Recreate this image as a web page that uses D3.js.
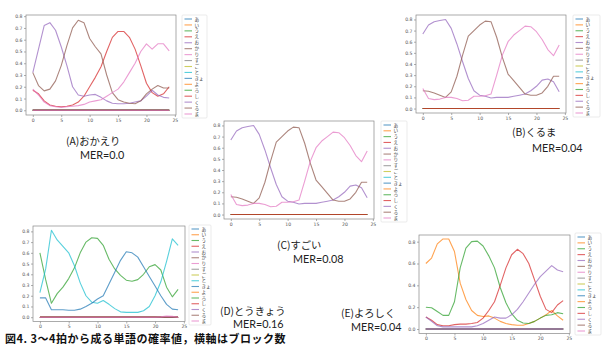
<!DOCTYPE html>
<html>
<head>
<meta charset="utf-8">
<script src="https://cdn.jsdelivr.net/npm/d3@7/dist/d3.min.js"></script>
<style>
  body { margin: 0; background: #fff; }
  svg { display: block; }
  .tick text { font-family: "DejaVu Sans", sans-serif; font-size: 4.6px; fill: #555; }
  .tick line { stroke: #777; stroke-width: 0.6; }
</style>
</head>
<body>
<div id="chart"></div>
<script>
// block index (x axis)
const steps = [0,1,2,3,4,5,6,7,8,9,10,11,12,13,14,15,16,17,18,19,20,21,22,23,24];
const legendLabels = ["あ","い","う","え","お","か","り","す","ご","と","きょ","よ","ろ","し","く","る","ま"];
const palette = ["#1f77b4","#ff7f0e","#2ca02c","#d62728","#9467bd","#8c564b","#e377c2","#7f7f7f","#bcbd22","#17becf"];
const zeros = [0,0,0,0,0,0,0,0,0,0,0,0,0,0,0,0,0,0,0,0,0,0,0,0,0];

// (A) おかえり
const aO  = [0.32,0.52,0.72,0.745,0.68,0.54,0.38,0.2,0.13,0.12,0.13,0.135,0.11,0.08,0.06,0.055,0.055,0.06,0.07,0.08,0.12,0.17,0.13,0.11,0.105];
const aKa = [0.32,0.21,0.165,0.18,0.25,0.38,0.55,0.7,0.765,0.745,0.61,0.54,0.48,0.3,0.15,0.09,0.07,0.06,0.055,0.08,0.14,0.18,0.21,0.19,0.19];
const aE  = [0.17,0.14,0.08,0.045,0.035,0.03,0.035,0.045,0.07,0.12,0.2,0.28,0.37,0.5,0.62,0.67,0.67,0.62,0.52,0.38,0.23,0.15,0.12,0.14,0.2];
const aRi = [0.18,0.13,0.07,0.04,0.03,0.025,0.03,0.035,0.04,0.05,0.07,0.08,0.09,0.12,0.15,0.18,0.24,0.32,0.4,0.5,0.565,0.52,0.565,0.565,0.505];

// (B) くるま
const bKu = [0.67,0.75,0.78,0.79,0.8,0.72,0.58,0.42,0.27,0.16,0.12,0.11,0.095,0.1,0.1,0.1,0.11,0.12,0.13,0.16,0.2,0.255,0.265,0.24,0.15];
const bRu = [0.16,0.155,0.14,0.12,0.1,0.15,0.29,0.48,0.65,0.7,0.75,0.785,0.78,0.64,0.46,0.31,0.25,0.19,0.13,0.12,0.12,0.14,0.2,0.29,0.29];
const bMa = [0.18,0.09,0.08,0.085,0.1,0.1,0.09,0.07,0.075,0.11,0.11,0.115,0.13,0.3,0.48,0.6,0.66,0.7,0.74,0.735,0.69,0.62,0.53,0.475,0.57];

// (C) すごい
const cKu = [0.67,0.75,0.78,0.79,0.8,0.72,0.58,0.42,0.27,0.16,0.12,0.11,0.095,0.1,0.1,0.1,0.11,0.12,0.13,0.16,0.2,0.255,0.265,0.24,0.15];
const cRu = [0.16,0.155,0.14,0.12,0.1,0.15,0.29,0.48,0.65,0.7,0.75,0.785,0.78,0.64,0.46,0.31,0.25,0.19,0.13,0.12,0.12,0.14,0.2,0.29,0.29];
const cMa = [0.18,0.09,0.08,0.085,0.1,0.1,0.09,0.07,0.075,0.11,0.11,0.115,0.13,0.3,0.48,0.6,0.66,0.7,0.74,0.735,0.69,0.62,0.53,0.475,0.57];

// (D) とうきょう
const dTo  = [0.23,0.45,0.81,0.72,0.66,0.6,0.48,0.32,0.2,0.14,0.13,0.155,0.12,0.08,0.05,0.045,0.045,0.045,0.06,0.1,0.2,0.33,0.52,0.73,0.67];
const dU   = [0.6,0.35,0.13,0.22,0.28,0.36,0.46,0.6,0.7,0.74,0.735,0.67,0.54,0.45,0.39,0.345,0.335,0.35,0.4,0.47,0.49,0.44,0.28,0.19,0.26];
const dKyo = [0.18,0.18,0.07,0.07,0.07,0.065,0.065,0.075,0.1,0.13,0.17,0.2,0.31,0.42,0.53,0.61,0.6,0.56,0.47,0.38,0.29,0.2,0.12,0.075,0.07];
const dMa  = [0,0,0,0,0,0,0,0,0,0,0,0,0,0,0,0,0,0,0,0,0,0.003,0.01,0.008,0];

// (E) よろしく
const eYo  = [0.6,0.65,0.78,0.825,0.825,0.71,0.42,0.27,0.17,0.125,0.115,0.12,0.1,0.07,0.05,0.04,0.035,0.035,0.05,0.07,0.1,0.13,0.17,0.12,0.08];
const eRo  = [0.2,0.195,0.16,0.125,0.125,0.25,0.56,0.74,0.8,0.805,0.76,0.67,0.56,0.38,0.24,0.14,0.08,0.055,0.05,0.07,0.1,0.125,0.13,0.15,0.14];
const eShi = [0.11,0.08,0.04,0.03,0.03,0.04,0.045,0.045,0.05,0.06,0.1,0.17,0.25,0.4,0.56,0.68,0.73,0.69,0.6,0.45,0.3,0.18,0.15,0.22,0.26];
const eKu  = [0.11,0.07,0.03,0.02,0.02,0.02,0.02,0.02,0.02,0.03,0.05,0.08,0.11,0.1,0.1,0.13,0.18,0.25,0.33,0.41,0.48,0.53,0.58,0.54,0.525];

const xTicks = [0,5,10,15,20,25];
const yTicksFine = [0,0.1,0.2,0.3,0.4,0.5,0.6,0.7,0.8];
const yTicksCoarse = [0,0.2,0.4,0.6,0.8];

const panels = [
  {box:[26,176,15,115], yDom:[-0.04,0.81], yTicks:yTicksFine, leg:[182,15,25,103],
   curves:{3:aE,4:aO,5:aKa,6:aRi}, label:"(A)おかえり", lx:66, ly:145, mer:"MER=0.0", mx:80, my:158.5},
  {box:[416,566,15,113], yDom:[-0.04,0.84], yTicks:yTicksFine, leg:[573,15,27,102],
   curves:{14:bKu,15:bRu,16:bMa}, label:"(B)くるま", lx:512, ly:136, mer:"MER=0.04", mx:532, my:152},
  {box:[224,374,121,219], yDom:[-0.04,0.84], yTicks:yTicksFine, leg:[381,121,26,101],
   curves:{14:cKu,15:cRu,16:cMa}, label:"(C)すごい", lx:277, ly:249, mer:"MER=0.08", mx:293, my:262.5},
  {box:[33,185,226,321.5], yDom:[-0.04,0.85], yTicks:yTicksFine, leg:[189,225,22,100],
   curves:{2:dU,9:dTo,10:dKyo,16:dMa}, label:"(D)とうきょう", lx:220, ly:314.5, mer:"MER=0.16", mx:233, my:328},
  {box:[419,570,235,333.5], yDom:[-0.041,0.861], yTicks:yTicksCoarse, leg:[575,233,26,102],
   curves:{11:eYo,12:eRo,13:eShi,14:eKu}, label:"(E)よろしく", lx:341, ly:317, mer:"MER=0.04", mx:351, my:331}
];

const W = 602, H = 345;
const svg = d3.select("#chart").append("svg").attr("width", W).attr("height", H);
const jp = "'Noto Sans CJK JP', 'Noto Sans', sans-serif";
const latin = "Lato, 'Liberation Sans', sans-serif";

function drawPanel(p) {
  const [bx0, bx1, by0, by1] = p.box;
  const x = d3.scaleLinear().domain([-1.2, 25.2]).range([bx0, bx1]);
  const y = d3.scaleLinear().domain(p.yDom).range([by1, by0]);
  const g = svg.append("g");

  //Add X axis
  const gx = g.append("g")
    .attr("transform", "translate(0," + by1 + ")")
    .call(d3.axisBottom(x).tickValues(xTicks).tickSize(2).tickPadding(1.5).tickFormat(d3.format("d")));
  gx.select(".domain").remove();

  // Add Y axis
  const gy = g.append("g")
    .attr("transform", "translate(" + bx0 + ",0)")
    .call(d3.axisLeft(y).tickValues(p.yTicks).tickSize(2).tickPadding(1.5).tickFormat(d3.format(".1f")));
  gy.select(".domain").remove();

  // lines, drawn in legend order so later ones sit on top
  const line = d3.line().x((d, i) => x(steps[i])).y(d => y(d));
  legendLabels.forEach((lab, i) => {
    const vals = p.curves[i] || zeros;
    g.append("path")
      .datum(vals)
      .attr("d", line)
      .attr("fill", "none")
      .attr("stroke", palette[i % 10])
      .attr("stroke-opacity", 0.72)
      .attr("stroke-width", 1.1)
      .attr("stroke-linejoin", "round");
  });

  // frame
  g.append("rect")
    .attr("x", bx0).attr("y", by0)
    .attr("width", bx1 - bx0).attr("height", by1 - by0)
    .attr("fill", "none").attr("stroke", "#888").attr("stroke-width", 0.7);

  // legend
  const [lx, ly, lw, lh] = p.leg;
  const lg = g.append("g");
  lg.append("rect")
    .attr("x", lx).attr("y", ly).attr("width", lw).attr("height", lh)
    .attr("rx", 1).attr("fill", "#fff").attr("stroke", "#ddd").attr("stroke-width", 0.6);
  const step = (lh - 8) / (legendLabels.length - 1);
  legendLabels.forEach((lab, i) => {
    const yy = ly + 4 + i * step;
    lg.append("line")
      .attr("x1", lx + 2.5).attr("x2", lx + 10)
      .attr("y1", yy).attr("y2", yy)
      .attr("stroke", palette[i % 10]).attr("stroke-opacity", 0.72).attr("stroke-width", 1.1);
    lg.append("text")
      .attr("x", lx + 12.5).attr("y", yy + 1.6)
      .style("font-family", jp).style("font-size", "4.6px").style("fill", "#444")
      .text(lab);
  });

  // panel labels
  svg.append("text").attr("x", p.lx).attr("y", p.ly)
    .style("font-family", jp).style("font-size", "10.3px").style("fill", "#222")
    .text(p.label);
  svg.append("text").attr("x", p.mx).attr("y", p.my)
    .style("font-family", latin).style("font-size", "10.8px").style("fill", "#222")
    .text(p.mer);
}

panels.forEach(drawPanel);

svg.append("text").attr("x", 5).attr("y", 343)
  .style("font-family", jp).style("font-size", "11px").style("font-weight", "bold")
  .style("letter-spacing", "0.5px").style("fill", "#111")
  .text("図4. 3〜4拍から成る単語の確率値，横軸はブロック数");
</script>
</body>
</html>
